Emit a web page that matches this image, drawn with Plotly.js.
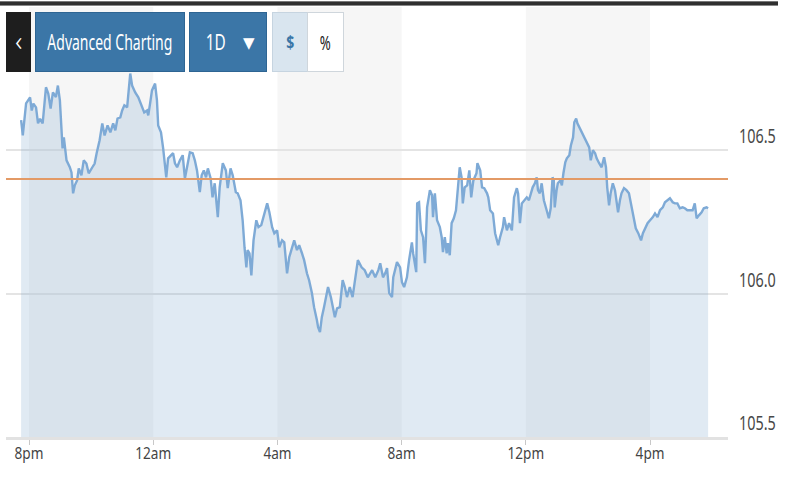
<!DOCTYPE html>
<html>
<head>
<meta charset="utf-8">
<script src="https://cdn.plot.ly/plotly-3.0.1.min.js"></script>
<style>
  html, body { margin:0; padding:0; background:#fff; }
  #wrap { position:relative; width:800px; height:500px; overflow:hidden; }
  #chart { position:absolute; left:0; top:0; width:800px; height:500px; }
  .bar { position:absolute; box-sizing:border-box; display:flex; align-items:center; justify-content:center;
         font-family:"Noto Sans","DejaVu Sans",sans-serif; white-space:nowrap; overflow:hidden; }
  .bar span.t { display:inline-block; transform-origin:center center; }
</style>
</head>
<body>
<div id="wrap">
  <div id="chart"></div>
  <div class="bar" style="left:0;top:1px;width:778px;height:5px;background:#2f2f2f;border-top:1px solid #777;border-bottom:1px solid #888;"></div>
  <div class="bar" style="left:6px;top:12px;width:25px;height:60px;background:#1e1e1e;color:#fff;font-size:28px;font-weight:300;padding-bottom:5px;"><span class="t" data-w="7">&lsaquo;</span></div>
  <div class="bar" style="left:35px;top:12px;width:150px;height:60px;background:#3b76a7;border:1px solid #2e6593;color:#fff;font-size:21px;"><span class="t" data-w="125">Advanced Charting</span></div>
  <div class="bar" style="left:189px;top:12px;width:78px;height:60px;background:#3b76a7;border:1px solid #2e6593;color:#fff;font-size:21px;">
    <span class="t" data-w="20" style="position:absolute;left:12px;">1D</span>
    <span style="position:absolute;left:53px;font-size:15px;">&#9660;</span></div>
  <div class="bar" style="left:272px;top:12px;width:36px;height:60px;background:#d9e5ef;border:1px solid #c6d4e0;color:#3b76a7;font-size:18px;font-weight:bold;"><span class="t" data-w="8">$</span></div>
  <div class="bar" style="left:307px;top:12px;width:37px;height:60px;background:#fff;border:1px solid #cfd6dc;color:#222;font-size:20px;"><span class="t" data-w="11">%</span></div>
</div>
<script>
// Hours after 8pm (time of day) and price values
const hours = [
-0.254,-0.20,-0.094,0.034,0.088,0.14,0.226,0.29,0.354,0.44,0.546,0.62,0.696,0.77,0.866,0.93,0.994,1.048,1.08,1.122,
1.208,1.314,1.368,1.42,1.474,1.548,1.602,1.688,1.762,1.848,1.922,2.04,2.114,2.178,2.274,2.36,2.434,
2.53,2.62,2.71,2.78,2.85,2.94,3.00,3.07,3.16,3.20,3.26,3.32,3.42,3.52,3.64,3.71,3.80,3.84,3.90,3.96,
4.06,4.12,4.16,4.25,4.32,4.42,4.48,4.57,4.64,4.70,4.77,4.86,4.95,5.02,5.09,5.18,5.27,5.34,5.41,5.50,
5.56,5.63,5.70,5.76,5.85,5.91,5.98,6.08,6.14,6.24,6.34,6.40,6.49,6.56,6.66,6.72,6.81,6.88,6.94,7.00,
7.04,7.10,7.16,7.23,7.32,7.39,7.48,
7.58,7.67,7.74,7.83,7.90,7.99,8.06,8.15,8.22,8.31,8.38,8.47,8.54,8.63,8.70,8.79,8.86,8.95,9.02,9.11,
9.18,9.27,9.31,9.37,9.43,9.50,9.59,9.63,9.72,9.78,9.85,9.92,10.01,10.10,10.17,10.24,10.33,10.42,10.49,
10.59,10.71,10.81,10.91,
11.05,11.15,11.25,11.31,11.40,11.47,11.53,11.60,11.69,11.73,11.85,11.95,12.01,12.08,12.17,12.24,12.33,
12.37,12.47,12.50,12.56,12.62,12.69,12.75,12.82,12.91,12.98,13.01,13.07,13.14,13.23,13.29,13.33,13.39,
13.45,13.49,13.55,13.61,13.68,13.75,13.81,13.87,13.93,13.97,14.03,
14.11,14.18,14.24,14.31,14.41,14.44,14.53,14.59,14.66,14.75,14.79,14.85,14.94,15.01,15.08,15.11,15.17,
15.26,15.30,15.39,15.46,15.55,15.62,15.71,15.75,15.81,15.87,15.94,16.03,16.10,16.16,16.22,16.29,16.35,
16.39,16.45,16.51,16.58,16.67,16.74,16.80,16.86,16.90,16.93,16.99,17.03,
17.11,17.16,17.21,17.27,17.32,17.40,17.45,17.52,17.56,17.62,17.66,17.72,17.80,17.88,17.96,18.04,18.09,
18.16,18.23,18.28,18.36,18.44,18.52,18.58,18.62,18.68,18.73,18.80,18.87,18.92,18.97,19.03,19.08,19.16,
19.24,19.32,19.40,19.48,19.54,
19.62,19.71,19.77,19.84,19.92,20.00,20.09,20.16,20.24,20.32,20.41,20.48,20.56,20.64,20.73,20.80,20.88,
20.96,21.05,21.12,21.20,21.28,21.37,21.44,21.50,21.58,21.66,21.73,21.82,21.87
];
const prices = [
106.605,106.552,106.664,106.685,106.639,106.663,106.650,106.594,106.610,106.594,106.720,106.698,106.646,106.702,106.686,106.726,106.674,106.577,106.507,106.545,
106.465,106.441,106.423,106.350,106.378,106.395,106.437,106.413,106.465,106.454,106.420,106.441,106.454,106.490,106.535,106.594,106.552,
106.587,106.563,106.594,106.570,106.611,106.615,106.639,106.657,106.650,106.699,106.768,106.726,106.702,106.685,106.650,106.632,106.639,106.622,106.664,106.709,
106.733,106.674,106.587,106.563,106.507,106.406,106.472,106.483,106.490,106.455,106.441,106.465,106.483,106.402,106.441,106.493,106.490,106.465,106.430,106.354,
106.413,106.430,106.406,106.437,106.402,106.336,106.385,106.267,106.371,106.455,106.430,106.368,106.437,106.413,106.354,106.350,106.326,106.256,106.162,106.092,
106.152,106.141,106.064,106.186,106.256,106.232,106.239,
106.280,106.315,106.284,106.232,106.211,106.221,106.162,106.186,106.179,106.071,106.127,106.162,106.186,106.152,106.169,106.141,106.117,106.071,106.047,106.002,
105.953,105.908,105.883,105.866,105.918,105.953,106.002,106.023,105.988,105.953,105.918,105.949,105.953,106.047,106.023,105.988,106.023,105.988,106.037,
106.117,106.092,106.082,106.057,
106.082,106.057,106.082,106.106,106.057,106.071,106.089,106.002,105.988,106.057,106.110,106.092,106.040,106.023,106.057,106.117,106.179,
106.141,106.075,106.315,106.319,106.221,106.197,106.106,106.301,106.361,106.343,106.267,106.350,106.256,106.232,106.197,106.145,106.197,
106.141,106.176,106.134,106.246,106.263,106.291,106.378,106.441,106.406,106.315,106.371,
106.378,106.430,106.336,106.395,106.420,106.455,106.430,106.371,106.368,106.350,106.336,106.291,106.280,106.211,106.186,106.169,106.197,
106.232,106.267,106.221,106.246,106.221,106.336,106.368,106.350,106.246,106.315,106.326,106.336,106.326,106.350,106.371,106.385,106.406,
106.361,106.350,106.385,106.326,106.291,106.263,106.298,106.406,106.395,106.301,106.361,106.385,
106.395,106.378,106.420,106.458,106.472,106.483,106.517,106.545,106.598,106.611,106.594,106.580,106.563,106.545,106.528,106.510,106.465,
106.500,106.490,106.472,106.455,106.441,106.476,106.441,106.371,106.308,106.350,106.385,106.361,106.326,106.284,106.326,106.350,106.368,
106.361,106.350,106.301,106.267,106.228,
106.211,106.186,106.211,106.228,106.246,106.256,106.267,106.280,106.267,106.291,106.301,106.319,106.326,106.333,106.319,106.315,106.315,
106.298,106.301,106.298,106.291,106.291,106.291,106.315,106.263,106.274,106.284,106.298,106.301,106.298
];
const refLevel = 106.40;                       // previous close line
const xTickVals = [0, 4, 8, 12, 16, 20];
const xTickText = ["8pm", "12am", "4am", "8am", "12pm", "4pm"];
const yTickVals = [105.5, 106.0, 106.5];
const sessionBands = [[0, 4], [8, 12], [16, 20]];

const fontFam = '"Noto Sans","DejaVu Sans",sans-serif';

// condense toolbar labels horizontally to the reference widths
document.querySelectorAll('.bar span.t').forEach(el => {
  const w = el.getBoundingClientRect().width;
  const target = parseFloat(el.dataset.w);
  if (w > 0) el.style.transform = 'scaleX(' + (target / w).toFixed(3) + ')';
});

const shapes = sessionBands.map(b => ({
  type: 'rect', xref: 'x', yref: 'paper', x0: b[0], x1: b[1], y0: 0, y1: 1,
  fillcolor: '#f6f6f6', line: {width: 0}, layer: 'below'
}));
shapes.push({
  type: 'line', xref: 'paper', yref: 'y', x0: 0, x1: 1, y0: refLevel, y1: refLevel,
  line: {color: '#e39a66', width: 2}, layer: 'above'
});

const trace = {
  x: hours, y: prices, type: 'scatter', mode: 'lines',
  line: {color: '#7eaad6', width: 2.4},
  fill: 'tozeroy', fillcolor: 'rgba(122,165,205,0.23)',
  hoverinfo: 'skip'
};

const layout = {
  width: 800, height: 500,
  margin: {l: 6, r: 72, t: 7, b: 63},
  paper_bgcolor: '#ffffff', plot_bgcolor: 'rgba(0,0,0,0)',
  showlegend: false,
  xaxis: {
    range: [-0.741, 22.51], tickvals: xTickVals, ticktext: xTickText,
    showgrid: false, zeroline: false, showline: true, linecolor: '#e2e2e2', linewidth: 3,
    ticks: 'outside', ticklen: 5, tickcolor: '#c8c8c8', tickwidth: 1, ticklabelstandoff: -6,
    tickfont: {family: fontFam, size: 17, color: '#444'}
  },
  yaxis: {
    side: 'right', range: [105.5, 107.0], tickvals: yTickVals, tickformat: '.1f',
    showgrid: true, gridcolor: '#e4e4e4', gridwidth: 2, zeroline: false, showline: false,
    ticks: '', ticklabelposition: 'outside top', ticklabelstandoff: 10,
    tickfont: {family: fontFam, size: 20, color: '#484848'}
  },
  shapes: shapes
};

function condense(selector, factor) {
  document.querySelectorAll(selector).forEach(t => {
    const len = t.getComputedTextLength();
    if (len > 0) {
      t.setAttribute('textLength', (len * factor).toFixed(1));
      t.setAttribute('lengthAdjust', 'spacingAndGlyphs');
    }
  });
}

Plotly.newPlot('chart', [trace], layout, {displayModeBar: false, staticPlot: true}).then(() => {
  condense('#chart .xtick text', 0.8);
  condense('#chart .ytick text', 0.72);
});
</script>
</body>
</html>
